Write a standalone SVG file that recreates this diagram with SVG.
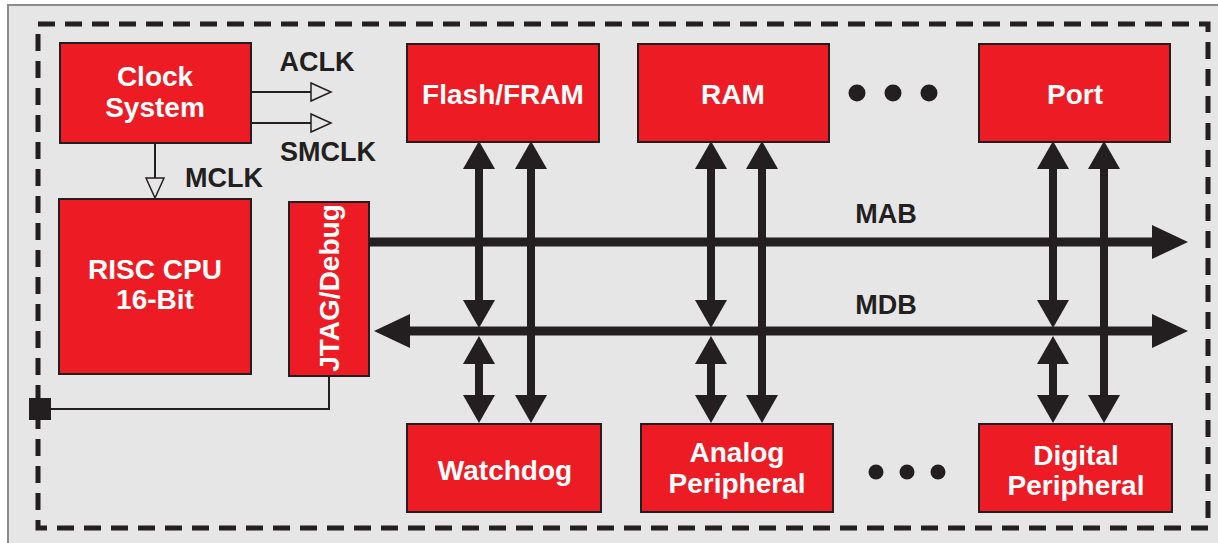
<svg xmlns="http://www.w3.org/2000/svg" width="1218" height="543" viewBox="0 0 1218 543">
<style>
.box{fill:#ed1c24;stroke:#231f20;stroke-width:2}
.bt{font-family:"Liberation Sans",Arial,sans-serif;font-weight:bold;font-size:28px;fill:#ffffff;text-anchor:middle}
.lb{font-family:"Liberation Sans",Arial,sans-serif;font-weight:bold;font-size:27px;fill:#231f20;text-anchor:middle}
.thin{fill:none;stroke:#231f20;stroke-width:2}
.bus{fill:none;stroke:#231f20;stroke-width:9}
.vc{fill:none;stroke:#231f20;stroke-width:8}
.dot{fill:#231f20}
</style>
<defs>
<marker id="ah" markerUnits="userSpaceOnUse" viewBox="0 0 28 32" markerWidth="28" markerHeight="32" refX="0" refY="16" orient="auto-start-reverse">
<path d="M0,0 L28,16 L0,32 Z" fill="#231f20"/>
</marker>
<marker id="bh" markerUnits="userSpaceOnUse" viewBox="0 0 36 34" markerWidth="36" markerHeight="34" refX="0" refY="17" orient="auto-start-reverse">
<path d="M0,0 L36,17 L0,34 Z" fill="#231f20"/>
</marker>
<marker id="oh" markerUnits="userSpaceOnUse" viewBox="-2 -2 24 22" markerWidth="24" markerHeight="22" refX="0" refY="9" orient="auto">
<path d="M0,0 L20,9 L0,18 Z" fill="#e6e6e6" stroke="#231f20" stroke-width="1.5"/>
</marker>
</defs>
<rect x="0" y="0" width="1218" height="543" fill="#ffffff"/>
<rect x="8" y="5" width="1222" height="550" fill="#e6e6e6" stroke="#8c8c8c" stroke-width="2"/>
<rect x="38" y="24" width="1170" height="504" fill="none" stroke="#231f20" stroke-width="5" stroke-dasharray="17 10"/>

<g id="connectors">
<line class="thin" x1="252" y1="92" x2="311" y2="92" marker-end="url(#oh)"/>
<line class="thin" x1="252" y1="123" x2="311" y2="123" marker-end="url(#oh)"/>
<line class="thin" x1="155" y1="143" x2="155" y2="178" marker-end="url(#oh)"/>
<polyline class="thin" points="329,376 329,409 40,409"/>
<rect x="29" y="398" width="22" height="22" fill="#231f20"/>
<line class="bus" x1="369" y1="242" x2="1152" y2="242" marker-end="url(#bh)"/>
<line class="bus" x1="410" y1="331" x2="1152" y2="331" marker-start="url(#bh)" marker-end="url(#bh)"/>
<line class="vc" x1="479" y1="169" x2="479" y2="300" marker-start="url(#ah)" marker-end="url(#ah)"/>
<line class="vc" x1="479" y1="364" x2="479" y2="395" marker-start="url(#ah)" marker-end="url(#ah)"/>
<line class="vc" x1="531" y1="169" x2="531" y2="395" marker-start="url(#ah)" marker-end="url(#ah)"/>
<line class="vc" x1="711" y1="169" x2="711" y2="300" marker-start="url(#ah)" marker-end="url(#ah)"/>
<line class="vc" x1="711" y1="364" x2="711" y2="395" marker-start="url(#ah)" marker-end="url(#ah)"/>
<line class="vc" x1="762" y1="169" x2="762" y2="395" marker-start="url(#ah)" marker-end="url(#ah)"/>
<line class="vc" x1="1053" y1="169" x2="1053" y2="300" marker-start="url(#ah)" marker-end="url(#ah)"/>
<line class="vc" x1="1053" y1="364" x2="1053" y2="395" marker-start="url(#ah)" marker-end="url(#ah)"/>
<line class="vc" x1="1104" y1="169" x2="1104" y2="395" marker-start="url(#ah)" marker-end="url(#ah)"/>
<text class="lb" x="317" y="71" font-size="26">ACLK</text>
<text class="lb" x="328" y="161">SMCLK</text>
<text class="lb" x="224" y="187">MCLK</text>
<text class="lb" x="886" y="223">MAB</text>
<text class="lb" x="886" y="314">MDB</text>
</g>

<g id="clock">
<rect class="box" x="60" y="43" width="191" height="100"/>
<text class="bt" x="155" y="86">Clock</text>
<text class="bt" x="155" y="117">System</text>
</g>
<g id="cpu">
<rect class="box" x="59" y="199" width="192" height="175"/>
<text class="bt" x="155" y="279">RISC CPU</text>
<text class="bt" x="155" y="309">16-Bit</text>
</g>
<g id="jtag">
<rect class="box" x="289" y="202" width="80" height="174"/>
<text class="bt" font-size="24" transform="translate(339,288) rotate(-90)" x="0" y="0">JTAG/Debug</text>
</g>
<g id="flash">
<rect class="box" x="407" y="44" width="192" height="98"/>
<text class="bt" x="503" y="104">Flash/FRAM</text>
</g>
<g id="ram">
<rect class="box" x="638" y="44" width="191" height="98"/>
<text class="bt" x="733" y="104">RAM</text>
</g>
<g id="dots-top">
<circle class="dot" cx="857" cy="93" r="8.5"/>
<circle class="dot" cx="893" cy="93" r="8.5"/>
<circle class="dot" cx="929" cy="93" r="8.5"/>
</g>
<g id="port">
<rect class="box" x="979" y="44" width="191" height="98"/>
<text class="bt" x="1075" y="104">Port</text>
</g>
<g id="watchdog">
<rect class="box" x="407" y="424" width="194" height="88"/>
<text class="bt" x="505" y="480">Watchdog</text>
</g>
<g id="analog">
<rect class="box" x="641" y="424" width="192" height="88"/>
<text class="bt" x="737" y="462">Analog</text>
<text class="bt" x="737" y="493">Peripheral</text>
</g>
<g id="dots-bottom">
<circle class="dot" cx="876" cy="472" r="7.5"/>
<circle class="dot" cx="907" cy="472" r="7.5"/>
<circle class="dot" cx="938" cy="472" r="7.5"/>
</g>
<g id="digital">
<rect class="box" x="979" y="424" width="193" height="88"/>
<text class="bt" x="1076" y="465">Digital</text>
<text class="bt" x="1076" y="495">Peripheral</text>
</g>
</svg>
